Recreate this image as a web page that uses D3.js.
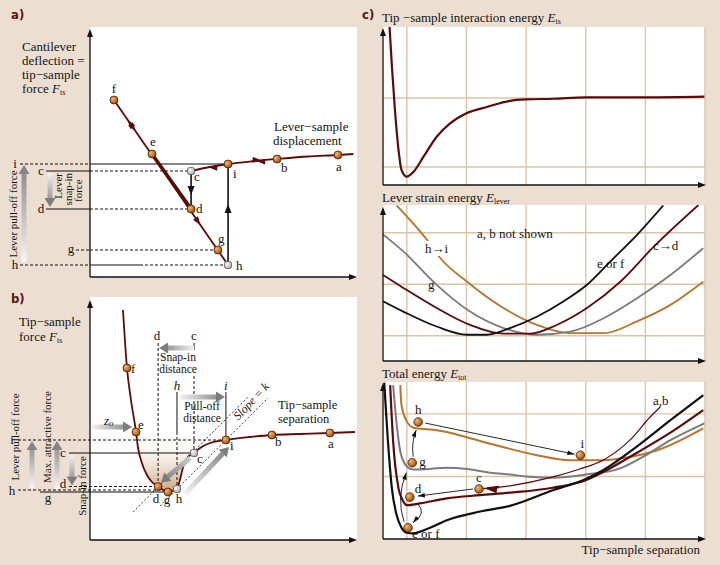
<!DOCTYPE html>
<html>
<head>
<meta charset="utf-8">
<script src="https://cdn.jsdelivr.net/npm/d3@7"></script>
<style>
body { margin: 0; }
text { font-family: 'Liberation Serif', 'DejaVu Serif', serif; font-size: 13px; fill: #141414; }
.lab { font-family: 'DejaVu Sans Condensed', 'DejaVu Sans', sans-serif; font-weight: bold; font-size: 13px; fill: #5e1212; }
</style>
</head>
<body>
<script>
// ---------- data ----------
// panel a: lever-sample displacement vs cantilever deflection (arbitrary units)
var aPoints = [
  { id: 'f', x: 0.90, y: 2.16, kind: 'o' },
  { id: 'e', x: 2.33, y: 0.00, kind: 'o' },
  { id: 'd', x: 3.80, y: -2.20, kind: 'o' },
  { id: 'g', x: 4.81, y: -3.84, kind: 'o' },
  { id: 'h', x: 5.19, y: -4.44, kind: 'w' },
  { id: 'c', x: 3.80, y: -0.68, kind: 'w' },
  { id: 'i', x: 5.19, y: -0.40, kind: 'o' },
  { id: 'b', x: 7.03, y: -0.20, kind: 'o' },
  { id: 'a', x: 9.32, y: -0.04, kind: 'o' }
];
var aApproach = [[3.80, -0.68], [4.50, -0.52], [5.19, -0.40], [6.10, -0.29], [7.03, -0.20], [8.20, -0.10], [9.32, -0.04], [9.90, 0]];

// panel b: tip-sample force curve
var bCurve = [[1.24, 4.88], [1.39, 2.56], [1.54, 1.28], [1.73, 0], [1.80, -0.60], [1.95, -1.24], [2.14, -1.72],
  [2.33, -2.00], [2.56, -2.18], [2.93, -2.40], [3.27, -2.28], [3.38, -1.92], [3.50, -1.40], [3.68, -1.00],
  [3.91, -0.84], [4.14, -0.64], [4.51, -0.44], [5.11, -0.32], [6.02, -0.20], [6.84, -0.12], [7.89, -0.08],
  [9.02, -0.04], [9.96, 0]];
var bPoints = [
  { id: 'f', x: 1.39, y: 2.56, kind: 'o' },
  { id: 'e', x: 1.73, y: 0, kind: 'o' },
  { id: 'd', x: 2.56, y: -2.18, kind: 'o' },
  { id: 'g', x: 2.93, y: -2.40, kind: 'o' },
  { id: 'h', x: 3.27, y: -2.28, kind: 'w' },
  { id: 'c', x: 3.91, y: -0.84, kind: 'w' },
  { id: 'i', x: 5.11, y: -0.32, kind: 'o' },
  { id: 'b', x: 6.84, y: -0.12, kind: 'o' },
  { id: 'a', x: 9.02, y: -0.04, kind: 'o' }
];
var bSlopeLines = [[[1.62, -3.2], [5.94, 1.4]], [[2.63, -2.96], [6.69, 1.36]]];

// panel c: energies vs tip-sample separation
var cGridX = [0.4, 1.4, 2.4, 3.4, 4.4, 5.4];
var c1Grid = [-1, 0];
var c2Grid = [0, 1, 2];
var c3Grid = [1, 2];
var eTs = [[0.11, 1.03], [0.15, 0.45], [0.20, -0.17], [0.26, -0.75], [0.31, -1.04], [0.40, -1.14], [0.51, -1.07],
  [0.68, -0.85], [0.90, -0.56], [1.12, -0.37], [1.40, -0.22], [1.74, -0.13], [2.13, -0.04], [2.40, -0.02],
  [2.86, -0.01], [3.40, 0.01], [4.41, 0.01], [5.39, 0.02]];
var leverEF = [[0, 0.67], [0.34, 0.47], [0.90, 0.18], [1.41, 0.02], [1.74, 0.02], [2.13, 0.15], [2.58, 0.37], [3.03, 0.67], [3.42, 0.99], [3.81, 1.44], [4.26, 1.96], [4.70, 2.53]];
var leverCD = [[0, 1.18], [0.34, 0.93], [0.90, 0.54], [1.46, 0.21], [2.02, 0.04], [2.47, 0.04], [2.91, 0.21], [3.42, 0.54], [3.98, 1.05], [4.54, 1.73], [5.29, 2.54]];
var leverG = [[0, 1.97], [0.34, 1.64], [0.90, 0.99], [1.46, 0.47], [2.02, 0.15], [2.58, 0.02], [3.14, 0.08], [3.70, 0.34], [4.26, 0.73], [4.82, 1.18], [5.37, 1.70]];
var leverHI = [[0.23, 2.53], [0.76, 1.83], [0.96, 1.51], [1.41, 1.05], [2.02, 0.54], [2.58, 0.21], [3.14, 0.05], [3.70, 0.05], [4.26, 0.28], [4.82, 0.60], [5.37, 1.05]];
var totEF = [[0.02, 2.5], [0.08, 1.6], [0.15, 0.8], [0.23, 0.38], [0.31, 0.18], [0.40, 0.10], [0.50, 0.09], [0.79, 0.18], [1.07, 0.30], [1.63, 0.44], [2.13, 0.53], [2.85, 0.78], [3.40, 0.96], [3.69, 1.10], [4.26, 1.48], [4.82, 1.90], [5.37, 2.30]];
var totCD = [[0.12, 2.46], [0.17, 1.56], [0.26, 0.81], [0.33, 0.62], [0.40, 0.54], [0.62, 0.57], [1.07, 0.65], [1.63, 0.70], [2.13, 0.74], [2.85, 0.82], [3.40, 0.94], [3.69, 1.07], [4.26, 1.38], [4.82, 1.70], [5.37, 2.06]];
var totG = [[0.17, 2.46], [0.23, 1.83], [0.29, 1.40], [0.40, 1.16], [0.51, 1.11], [0.79, 1.12], [1.07, 1.14], [1.41, 1.12], [1.80, 1.06], [2.13, 1.03], [2.41, 1.00], [2.86, 0.98], [3.40, 1.03], [3.98, 1.13], [4.41, 1.34], [4.82, 1.58], [5.39, 1.85]];
var totHI = [[0.29, 2.46], [0.31, 2.14], [0.40, 1.88], [0.51, 1.78], [0.79, 1.75], [1.07, 1.71], [1.46, 1.61], [2.01, 1.47], [2.58, 1.34], [3.14, 1.26], [3.69, 1.26], [4.14, 1.31], [4.60, 1.42], [5.37, 1.77]];
var totAB = [[1.62, 0.80], [2.20, 0.86], [2.80, 0.98], [3.30, 1.12], [3.69, 1.26], [4.14, 1.58], [4.48, 1.95], [4.65, 2.11]];
var cPoints = [
  { id: 'h', x: 0.59, y: 1.87 }, { id: 'i', x: 3.31, y: 1.34 }, { id: 'g', x: 0.49, y: 1.22 },
  { id: 'd', x: 0.45, y: 0.67 }, { id: 'c', x: 1.61, y: 0.80 }, { id: 'e or f', x: 0.42, y: 0.18 }
];

// ---------- setup ----------
var W = 720, H = 565;
var DARK = '#5a0b0b', ORANGE = '#b9742f', GRAY = '#7b7b7b', GRID = '#dcc4a8';
var SERIF = "'Liberation Serif', 'DejaVu Serif', serif";
var svg = d3.select('body').append('svg').attr('width', W).attr('height', H).attr('font-family', SERIF);
var defs = svg.append('defs');
svg.append('rect').attr('width', W).attr('height', H).attr('fill', '#ecdfd2');

var rg = defs.append('radialGradient').attr('id', 'ball').attr('cx', '35%').attr('cy', '35%').attr('r', '70%');
rg.append('stop').attr('offset', '0%').attr('stop-color', '#f5b66c');
rg.append('stop').attr('offset', '100%').attr('stop-color', '#9a4a10');
var wg = defs.append('radialGradient').attr('id', 'wball').attr('cx', '35%').attr('cy', '35%').attr('r', '70%');
wg.append('stop').attr('offset', '0%').attr('stop-color', '#ffffff');
wg.append('stop').attr('offset', '100%').attr('stop-color', '#a8a8a8');
var sh = defs.append('linearGradient').attr('id', 'shade').attr('x1', 0).attr('y1', 0).attr('x2', 0).attr('y2', 1);
sh.append('stop').attr('offset', '0%').attr('stop-color', '#ffffff').attr('stop-opacity', 0);
sh.append('stop').attr('offset', '100%').attr('stop-color', '#c9a27c');

function head(g, x, y, ang, len, wid, col) {
  g.append('path').attr('d', 'M0,0 L' + (-len) + ',' + (-wid / 2) + ' L' + (-len) + ',' + (wid / 2) + ' Z')
    .attr('transform', 'translate(' + x + ',' + y + ') rotate(' + ang + ')').attr('fill', col);
}
var gid = 0;
function gradArrow(g, x1, y1, x2, y2, w, c0, c1) {
  var id = 'ga' + (gid++);
  var lg = defs.append('linearGradient').attr('id', id).attr('gradientUnits', 'userSpaceOnUse')
    .attr('x1', x1).attr('y1', y1).attr('x2', x2).attr('y2', y2);
  lg.append('stop').attr('offset', 0).attr('stop-color', c0);
  lg.append('stop').attr('offset', 1).attr('stop-color', c1);
  var dx = x2 - x1, dy = y2 - y1, L = Math.sqrt(dx * dx + dy * dy), hl = w * 1.8;
  g.append('line').attr('x1', x1).attr('y1', y1).attr('x2', x2 - dx / L * hl).attr('y2', y2 - dy / L * hl)
    .attr('stroke', 'url(#' + id + ')').attr('stroke-width', w);
  head(g, x2, y2, Math.atan2(dy, dx) * 180 / Math.PI, hl, w * 2.2, c1);
}
function hline(g, y, x1, x2, dashed, w) {
  g.append('line').attr('x1', x1).attr('x2', x2).attr('y1', y).attr('y2', y).attr('stroke', '#111')
    .attr('stroke-width', w || 1).attr('stroke-dasharray', dashed ? '3,2' : null);
}
function vline(g, x, y1, y2, dashed, w) {
  g.append('line').attr('x1', x).attr('x2', x).attr('y1', y1).attr('y2', y2).attr('stroke', '#111')
    .attr('stroke-width', w || 1).attr('stroke-dasharray', dashed ? '3,2' : null);
}
function dot(g, x, y, kind) {
  if (kind === 'w') {
    g.append('rect').attr('x', x - 3.5).attr('y', y - 3.5).attr('width', 7).attr('height', 7).attr('rx', 2)
      .attr('fill', 'url(#wball)').attr('stroke', '#555').attr('stroke-width', 0.8);
  } else {
    g.append('circle').attr('cx', x).attr('cy', y).attr('r', 4).attr('fill', 'url(#ball)')
      .attr('stroke', '#4a1c00').attr('stroke-width', 0.8);
  }
}
function txt(g, x, y, s, anchor, italic, size) {
  return g.append('text').attr('x', x).attr('y', y).attr('text-anchor', anchor || 'start')
    .attr('font-family', SERIF)
    .style('font-style', italic ? 'italic' : null).style('font-size', size ? size + 'px' : null).text(s);
}
function rtxt(g, x, y, s, anchor, size) {
  return g.append('text').attr('transform', 'translate(' + x + ',' + y + ') rotate(-90)')
    .attr('font-family', SERIF)
    .attr('text-anchor', anchor || 'middle').style('font-size', (size || 12) + 'px').text(s);
}
function symbol(t, main, sub) {
  t.append('tspan').style('font-style', 'italic').text(main);
  t.append('tspan').style('font-size', '8px').attr('dy', 2).text(sub);
}
function axes(g, x0, y0, x1, yTop) {
  g.append('line').attr('x1', x0).attr('x2', x0).attr('y1', y0).attr('y2', yTop + 6).attr('stroke', '#111').attr('stroke-width', 1.3);
  head(g, x0, yTop, -90, 8, 6, '#111');
  g.append('line').attr('x1', x0).attr('x2', x1 - 6).attr('y1', y0).attr('y2', y0).attr('stroke', '#111').attr('stroke-width', 1.3);
  head(g, x1, y0, 0, 8, 6, '#111');
}

// ---------- panel a ----------
var xA = d3.scaleLinear().domain([0, 10]).range([90, 356]);
var yA = d3.scaleLinear().domain([-5, 5]).range([279, 29]);
var PA = {}; aPoints.forEach(function (p) { PA[p.id] = p; });
var ga = svg.append('g');
ga.append('rect').attr('x', 90).attr('y', 27).attr('width', 267).attr('height', 250).attr('fill', '#fff');
txt(ga, 11, 19, 'a)').attr('class', 'lab').attr('font-family', null);

// level lines
hline(ga, yA(PA.i.y), 20, 90, true); hline(ga, yA(PA.i.y), 90, xA(PA.i.x), false);
hline(ga, yA(PA.c.y), 46, 90, false); hline(ga, yA(PA.c.y), 90, xA(PA.c.x), true);
hline(ga, yA(PA.d.y), 46, 90, false); hline(ga, yA(PA.d.y), 90, xA(PA.d.x), true);
hline(ga, yA(PA.g.y), 76, 90, true); hline(ga, yA(PA.g.y), 90, xA(PA.g.x), true);
hline(ga, yA(PA.h.y), 20, 90, true); hline(ga, yA(PA.h.y), 90, 140, false); hline(ga, yA(PA.h.y), 140, xA(PA.h.x), true);
txt(ga, 15, yA(PA.i.y) + 4, 'i', 'middle');
txt(ga, 41, yA(PA.c.y) + 4, 'c', 'middle');
txt(ga, 41, yA(PA.d.y) + 4, 'd', 'middle');
txt(ga, 71, yA(PA.g.y) + 3, 'g', 'middle');
txt(ga, 15, yA(PA.h.y) + 4, 'h', 'middle');

axes(ga, 90, 277, 357, 29);

// contact line f -> h
ga.append('line').attr('x1', xA(PA.f.x)).attr('y1', yA(PA.f.y)).attr('x2', xA(PA.h.x)).attr('y2', yA(PA.h.y))
  .attr('stroke', DARK).attr('stroke-width', 1.8);
ga.append('line').attr('x1', xA(PA.e.x)).attr('y1', yA(PA.e.y)).attr('x2', xA(PA.d.x) - 2).attr('y2', yA(PA.d.y) - 3)
  .attr('stroke', DARK).attr('stroke-width', 3.4);
(function () {
  var x1 = xA(PA.f.x), y1 = yA(PA.f.y), x2 = xA(PA.h.x), y2 = yA(PA.h.y);
  var ang = Math.atan2(y2 - y1, x2 - x1) * 180 / Math.PI;
  [[0.12, ang + 180], [0.19, ang], [0.76, ang]].forEach(function (t) {
    head(ga, x1 + (x2 - x1) * t[0], y1 + (y2 - y1) * t[0], t[1], 9, 6, DARK);
  });
})();
// approach curve c -> a
var lineA = d3.line().x(function (d) { return xA(d[0]); }).y(function (d) { return yA(d[1]); }).curve(d3.curveMonotoneX);
ga.append('path').attr('d', lineA(aApproach)).attr('fill', 'none').attr('stroke', DARK).attr('stroke-width', 1.8);
head(ga, xA(4.45), yA(-0.53), 184, 9, 6, DARK);
head(ga, xA(6.25), yA(-0.28), 184, 9, 6, DARK);
head(ga, xA(6.45), yA(-0.26), 4, 9, 6, DARK);
// jumps
vline(ga, xA(PA.c.x), yA(PA.c.y), yA(PA.d.y), false, 1.6);
head(ga, xA(PA.c.x), (yA(PA.c.y) + yA(PA.d.y)) / 2 + 5, 90, 9, 7, '#111');
vline(ga, xA(PA.h.x), yA(PA.h.y), yA(PA.i.y), false, 1.6);
head(ga, xA(PA.h.x), yA(-2.0), -90, 9, 7, '#111');

aPoints.forEach(function (p) { dot(ga, xA(p.x), yA(p.y), p.kind); });
var aLab = { f: [0, -7, 'middle'], e: [1, -8, 'middle'], d: [5, 4, 'start'], c: [3, 10, 'start'], g: [0, -7, 'start'],
  h: [8, 5, 'start'], i: [5, 14, 'start'], b: [4, 13, 'start'], a: [1, 16, 'middle'] };
aPoints.forEach(function (p) { var o = aLab[p.id]; txt(ga, xA(p.x) + o[0], yA(p.y) + o[1], p.id, o[2]); });

// left annotations
gradArrow(ga, 24, yA(PA.h.y) - 3, 24, yA(PA.i.y) + 1, 5, '#f6f6f6', '#858585');
gradArrow(ga, 50, yA(PA.c.y) + 2, 50, yA(PA.d.y) - 2, 5, '#f2f2f2', '#7d7d7d');
rtxt(ga, 17, 214, 'Lever pull-off force', 'middle', 11);
rtxt(ga, 62, 173, 'Lever', 'end', 11);
rtxt(ga, 72, 173, 'snap-in', 'end', 11);
rtxt(ga, 82, 202, 'force', 'start', 11);

txt(ga, 22, 51, 'Cantilever');
txt(ga, 22, 65, 'deflection =');
txt(ga, 22, 79, 'tip\u2212sample');
var tf = txt(ga, 22, 93, 'force   ');
symbol(tf, 'F', 'ts');
txt(ga, 274, 131, 'Lever\u2212sample');
txt(ga, 273, 145, 'displacement');

// ---------- panel b ----------
var xB = d3.scaleLinear().domain([0, 10]).range([90, 356]);
var yB = d3.scaleLinear().domain([-5, 5]).range([557, 307]);
var PB = {}; bPoints.forEach(function (p) { PB[p.id] = p; });
var gb = svg.append('g');
gb.append('rect').attr('x', 90).attr('y', 297).attr('width', 267).attr('height', 243).attr('fill', '#fff');
txt(gb, 11, 303, 'b)').attr('class', 'lab').attr('font-family', null);

// shaded well
var iE = 3, iI = 17;
gb.append('path').attr('d', d3.area().x(function (d) { return xB(d[0]); }).y0(yB(0)).y1(function (d) { return yB(d[1]); })
  .curve(d3.curveMonotoneX)(bCurve.slice(iE, iI + 1))).attr('fill', 'url(#shade)');

// slope = k lines
bSlopeLines.forEach(function (l) {
  gb.append('line').attr('x1', xB(l[0][0])).attr('y1', yB(l[0][1])).attr('x2', xB(l[1][0])).attr('y2', yB(l[1][1]))
    .attr('stroke', '#111').attr('stroke-width', 0.8).attr('stroke-dasharray', '2,2');
});
gb.append('text').attr('transform', 'translate(254,404) rotate(-47)').attr('text-anchor', 'middle')
  .attr('font-family', SERIF).style('font-style', 'italic').style('font-size', '12px').text('Slope = k');

// level lines
hline(gb, yB(PB.i.y), 18, xB(PB.i.x), true);
hline(gb, yB(PB.c.y), 69, xB(PB.c.x), false);
hline(gb, yB(PB.d.y), 69, xB(PB.d.x), true);
hline(gb, yB(PB.h.y) + 1, 18, xB(PB.h.x), true);
hline(gb, yB(PB.g.y), 40, xB(PB.g.x), false);
txt(gb, 12, yB(PB.i.y) + 4, 'i', 'middle');
txt(gb, 63, yB(PB.c.y) + 4, 'c', 'middle');
txt(gb, 63, yB(PB.d.y) + 1, 'd', 'middle');
txt(gb, 12, yB(PB.h.y) + 6, 'h', 'middle');
txt(gb, 48, yB(PB.g.y) + 10, 'g', 'middle');

// vertical markers
vline(gb, xB(PB.d.x), 343, yB(PB.d.y), true);
vline(gb, xB(PB.c.x), 343, 350, false); vline(gb, xB(PB.c.x), 376, yB(PB.c.y), true);
vline(gb, xB(PB.h.x), 392, yB(0), false); vline(gb, xB(PB.h.x), yB(0), yB(PB.h.y), true);
vline(gb, xB(PB.i.x), 392, yB(PB.i.y), false);
txt(gb, xB(PB.d.x) - 1, 340, 'd', 'middle');
txt(gb, xB(PB.c.x), 340, 'c', 'middle');
txt(gb, xB(PB.h.x), 390, 'h', 'middle', true);
txt(gb, xB(PB.i.x), 390, 'i', 'middle', true);

axes(gb, 90, 540, 357, 300);

var lineB = d3.line().x(function (d) { return xB(d[0]); }).y(function (d) { return yB(d[1]); }).curve(d3.curveMonotoneX);
gb.append('path').attr('d', lineB(bCurve)).attr('fill', 'none').attr('stroke', DARK).attr('stroke-width', 1.8);

// grey arrows
gradArrow(gb, xB(PB.c.x), 348, xB(PB.d.x) + 1, 348, 5, '#f2f2f2', '#7d7d7d');
gradArrow(gb, xB(PB.h.x) + 3, 397, xB(PB.i.x) - 1, 397, 5, '#f2f2f2', '#7d7d7d');
gradArrow(gb, 91, 427, xB(PB.e.x) - 4, 427, 5, '#f4f4f4', '#7d7d7d');
gradArrow(gb, xB(PB.c.x) - 4, yB(PB.c.y) + 5, xB(PB.d.x) + 3, yB(PB.d.y) - 4, 5, '#c8c8c8', '#7a7a7a');
gradArrow(gb, xB(PB.h.x) + 8, yB(PB.h.y) + 5, xB(PB.i.x) + 3, yB(PB.i.y) + 7, 5, '#f2f2f2', '#7d7d7d');
txt(gb, 178, 361, 'Snap-in', 'middle', false, 11.5);
txt(gb, 178, 373, 'distance', 'middle', false, 11.5);
txt(gb, 202, 410, 'Pull-off', 'middle', false, 11.5);
txt(gb, 202, 422, 'distance', 'middle', false, 11.5);
var tz = txt(gb, 104, 425, '', 'start', true);
tz.append('tspan').text('z');
tz.append('tspan').style('font-size', '9px').attr('dy', 1).text('o');

bPoints.forEach(function (p) { dot(gb, xB(p.x), yB(p.y), p.kind); });
var bLab = { f: [4, 5, 'start'], e: [2, -3, 'start'], d: [-2, 16, 'middle'], g: [-1, 12, 'middle'], h: [2, 14, 'middle'],
  c: [3, 10, 'start'], i: [4, 10, 'start'], b: [3, 11, 'start'], a: [1, 15, 'middle'] };
bPoints.forEach(function (p) { var o = bLab[p.id]; txt(gb, xB(p.x) + o[0], yB(p.y) + o[1], p.id, o[2]); });

// left annotations
gradArrow(gb, 32, yB(PB.h.y) - 1, 32, yB(PB.i.y) + 1, 5, '#f6f6f6', '#858585');
gradArrow(gb, 57, yB(PB.g.y) - 3, 57, yB(PB.i.y) + 1, 5, '#f6f6f6', '#858585');
gradArrow(gb, 72, yB(PB.c.y) + 2, 72, yB(PB.d.y) - 1, 5, '#f2f2f2', '#7d7d7d');
rtxt(gb, 19, 437, 'Lever pull-off force', 'middle', 11);
rtxt(gb, 51, 437, 'Max. attractive force', 'middle', 11);
rtxt(gb, 86, 486, 'Snap-in force', 'middle', 11);

txt(gb, 19, 326, 'Tip\u2212sample');
var tb = txt(gb, 19, 341, 'force ');
symbol(tb, 'F', 'ts');
txt(gb, 278, 409, 'Tip\u2212sample', 'start', false, 12.5);
txt(gb, 278, 423, 'separation', 'start', false, 12.5);

// ---------- panel c ----------
var xC = d3.scaleLinear().domain([0, 5.4]).range([383, 705]);
var gc = svg.append('g');
txt(gc, 362, 19, 'c)').attr('class', 'lab').attr('font-family', null);

function subPanel(top, bottom, yScale, grid, id) {
  var g = gc.append('g');
  g.append('rect').attr('x', 383).attr('y', top).attr('width', 322).attr('height', bottom - top).attr('fill', '#fff');
  cGridX.forEach(function (v) { vline(g, xC(v), top, bottom, false, 1.4); });
  grid.forEach(function (v) { hline(g, yScale(v), 383, 705, false, 1.4); });
  g.selectAll('line').attr('stroke', GRID);
  defs.append('clipPath').attr('id', id).append('rect').attr('x', 383).attr('y', top).attr('width', 322).attr('height', bottom - top);
  var plot = g.append('g').attr('clip-path', 'url(#' + id + ')');
  return { g: g, plot: plot, line: d3.line().x(function (d) { return xC(d[0]); }).y(function (d) { return yScale(d[1]); }).curve(d3.curveMonotoneX) };
}

// c1
var yC1 = d3.scaleLinear().domain([-1.26, 1.03]).range([185, 27]);
var s1 = subPanel(27, 185, yC1, c1Grid, 'clip1');
s1.plot.append('path').attr('d', s1.line(eTs)).attr('fill', 'none').attr('stroke', DARK).attr('stroke-width', 2.2);
axes(s1.g, 383, 185, 706, 28);
var t1 = txt(gc, 382, 22, 'Tip \u2212sample interaction energy ');
symbol(t1, 'E', 'ts');

// c2
var yC2 = d3.scaleLinear().domain([-0.49, 2.54]).range([361, 205]);
var s2 = subPanel(205, 361, yC2, c2Grid, 'clip2');
[[leverHI, ORANGE], [leverG, GRAY], [leverCD, DARK], [leverEF, '#111']].forEach(function (c) {
  s2.plot.append('path').attr('d', s2.line(c[0])).attr('fill', 'none').attr('stroke', c[1]).attr('stroke-width', 1.8);
});
axes(s2.g, 383, 361, 706, 207);
var t2 = txt(gc, 382, 202, 'Lever strain energy ');
symbol(t2, 'E', 'lever');
txt(gc, 477, 238, 'a, b not shown');
var hi = txt(gc, 425, 253, 'h\u2192i');
var bb = hi.node().getBBox();
gc.insert('rect', function () { return hi.node(); }).attr('x', bb.x - 2).attr('y', bb.y).attr('width', bb.width + 4).attr('height', bb.height).attr('fill', '#fff');
txt(gc, 428, 289, 'g');
txt(gc, 597, 268, 'e or f');
txt(gc, 653, 250, 'c\u2192d');

// c3
var yC3 = d3.scaleLinear().domain([0, 2.51]).range([539, 382]);
var s3 = subPanel(382, 539, yC3, c3Grid, 'clip3');
[[totHI, ORANGE, 2], [totG, GRAY, 2], [totCD, DARK, 2.2], [totEF, '#111', 2.2], [totAB, DARK, 1.2]].forEach(function (c) {
  s3.plot.append('path').attr('d', s3.line(c[0])).attr('fill', 'none').attr('stroke', c[1]).attr('stroke-width', c[2]);
});
axes(s3.g, 383, 539, 706, 383);
var t3 = txt(gc, 382, 378, 'Total energy ');
symbol(t3, 'E', 'tot');
txt(gc, 700, 554, 'Tip\u2212sample separation', 'end');
txt(gc, 653, 405, 'a,b');

var PC = {}; cPoints.forEach(function (p) { PC[p.id] = { x: xC(p.x), y: yC3(p.y) }; });
// transitions
function thin(g, d, ex, ey, ang) {
  g.append('path').attr('d', d).attr('fill', 'none').attr('stroke', '#111').attr('stroke-width', 0.9);
  head(g, ex, ey, ang, 7, 4.5, '#111');
}
var h3 = PC['h'], i3 = PC['i'], g3 = PC['g'], d3p = PC['d'], c3p = PC['c'], e3 = PC['e or f'];
thin(gc, 'M' + (h3.x + 7) + ',' + (h3.y + 1) + 'L' + (i3.x - 6) + ',' + (i3.y - 1), i3.x - 6, i3.y - 1,
  Math.atan2(i3.y - h3.y - 2, i3.x - h3.x - 13) * 180 / Math.PI);
thin(gc, 'M' + (c3p.x - 6) + ',' + (c3p.y) + 'L' + (d3p.x + 8) + ',' + (d3p.y - 1), d3p.x + 8, d3p.y - 1,
  Math.atan2(d3p.y - 1 - c3p.y, d3p.x + 14 - c3p.x) * 180 / Math.PI);
thin(gc, 'M' + (g3.x + 1) + ',' + (g3.y - 6) + 'Q' + (g3.x - 1) + ',' + (g3.y - 20) + ' ' + (h3.x - 2) + ',' + (h3.y + 8),
  h3.x - 2, h3.y + 8, -70);
thin(gc, 'M' + (d3p.x + 7) + ',' + (d3p.y + 6) + 'Q' + (d3p.x + 18) + ',' + (d3p.y + 16) + ' ' + (e3.x + 5) + ',' + (e3.y - 5),
  e3.x + 5, e3.y - 5, 130);
thin(gc, 'M' + (e3.x - 4) + ',' + (e3.y - 6) + 'Q' + (e3.x - 12) + ',' + (e3.y - 30) + ' ' + (g3.x - 6) + ',' + (g3.y + 10),
  g3.x - 6, g3.y + 10, -75);
// thick arrow into c
gc.append('line').attr('x1', c3p.x + 8).attr('y1', c3p.y - 0.5).attr('x2', c3p.x + 20).attr('y2', c3p.y - 2)
  .attr('stroke', DARK).attr('stroke-width', 2.5);
head(gc, c3p.x + 7, c3p.y - 0.3, 186, 11, 7, DARK);

cPoints.forEach(function (p) {
  gc.append('circle').attr('cx', PC[p.id].x).attr('cy', PC[p.id].y).attr('r', 4.3).attr('fill', 'url(#ball)')
    .attr('stroke', '#4a1c00').attr('stroke-width', 0.8);
});
var cLab = { 'h': [0, -8, 'middle'], 'i': [2, -7, 'middle'], 'g': [7, 3, 'start'], 'd': [5, -4, 'start'],
  'c': [0, -7, 'middle'], 'e or f': [4, 10, 'start'] };
cPoints.forEach(function (p) { var o = cLab[p.id]; txt(gc, PC[p.id].x + o[0], PC[p.id].y + o[1], p.id, o[2]); });
</script>
</body>
</html>
